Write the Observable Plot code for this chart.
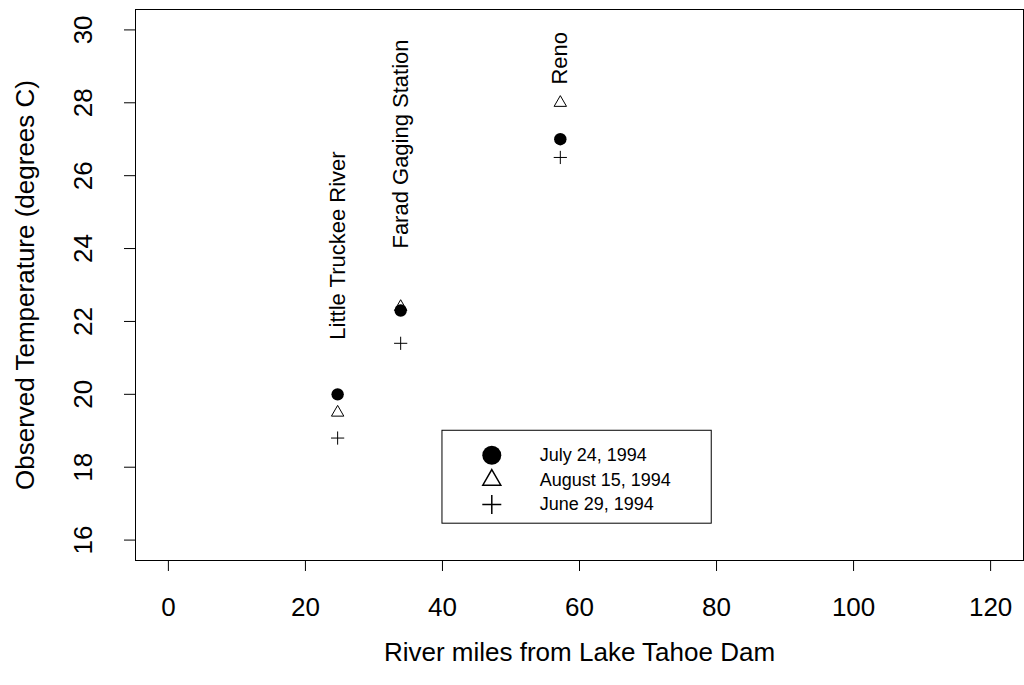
<!DOCTYPE html>
<html>
<head>
<meta charset="utf-8">
<script src="https://cdn.jsdelivr.net/npm/d3@7"></script>
<script src="https://cdn.jsdelivr.net/npm/@observablehq/plot@0.6"></script>
<style>
  html, body { margin: 0; padding: 0; background: #fff; }
  #chart svg { display: block; }
</style>
</head>
<body>
<div id="chart"></div>
<script>
// Sampling sites along the Truckee River
const sites = ["Little Truckee River", "Farad Gaging Station", "Reno"];
const riverMiles = [24.7, 33.9, 57.2];

// Observed water temperature (°C) on each survey date
const july24 = [20.0, 22.3, 27.0];
const aug15 = [19.5, 22.4, 28.0];
const june29 = [18.8, 21.4, 26.5];

// Where each site name starts (temperature units)
const siteLabelY = [21.5, 24.0, 28.5];

const seriesNames = ["July 24, 1994", "August 15, 1994", "June 29, 1994"];

const xTicks = [0, 20, 40, 60, 80, 100, 120];
const yTicks = [16, 18, 20, 22, 24, 26, 28, 30];

const xTitle = "River miles from Lake Tahoe Dam";
const yTitle = "Observed Temperature (degrees C)";

// Legend placement in data units (upper-left corner at x = 40, y = 19)
const legendBox = [{x1: 40, x2: 79.3, y1: 19, y2: 16.45}];
const legendSymbolX = 47.2;
const legendTextX = 54.2;
const legendRowY = [18.33, 17.65, 16.98];

// Open triangle and thin plus drawn as outlines
const openTriangle = {
  draw(ctx, size) {
    const r = Math.sqrt(size / Math.PI);
    const h = Math.sqrt(3) * r;
    ctx.moveTo(0, -2 * h / 3);
    ctx.lineTo(r, h / 3);
    ctx.lineTo(-r, h / 3);
    ctx.closePath();
  }
};
const thinPlus = {
  draw(ctx, size) {
    const r = Math.sqrt(size / Math.PI);
    ctx.moveTo(-r, 0); ctx.lineTo(r, 0);
    ctx.moveTo(0, -r); ctx.lineTo(0, r);
  }
};

const rows = (vals) => sites.map((s, i) => ({site: s, miles: riverMiles[i], temp: vals[i]}));
const labels = sites.map((s, i) => ({site: s, miles: riverMiles[i], y: siteLabelY[i]}));
const legendRows = seriesNames.map((name, i) => ({name, y: legendRowY[i]}));

const font = "Liberation Sans, Arial, Helvetica, sans-serif";
const axisFont = 26;

const chart = Plot.plot({
  width: 1024,
  height: 685,
  marginTop: 9,
  marginRight: 1,
  marginBottom: 125,
  marginLeft: 135,
  style: {fontFamily: font, background: "white", color: "black"},
  x: {domain: [-4.8, 124.8]},
  y: {domain: [15.44, 30.56]},
  marks: [
    Plot.frame({stroke: "black", strokeWidth: 1}),
    Plot.axisX(xTicks, {tickSize: 11, tickPadding: 26, fontSize: axisFont, label: null, stroke: "black"}),
    Plot.axisY(yTicks, {tickSize: 11, tickFormat: () => "", label: null, stroke: "black"}),
    Plot.text(yTicks, {y: d => d, text: d => String(d), frameAnchor: "left", dx: -44,
      rotate: -90, textAnchor: "middle", lineAnchor: "bottom", fontSize: axisFont, fill: "black"}),
    Plot.text([xTitle], {text: d => d, frameAnchor: "bottom", dy: 100, fontSize: axisFont, fill: "black"}),
    Plot.text([yTitle], {text: d => d, frameAnchor: "left", dx: -110, rotate: -90,
      textAnchor: "middle", fontSize: axisFont, fill: "black"}),

    // Site labels
    Plot.text(labels, {x: "miles", y: "y", text: "site", rotate: -90, textAnchor: "start",
      fontSize: 22, fill: "black"}),

    // Observations
    Plot.dot(rows(july24), {x: "miles", y: "temp", r: 6.2, fill: "black", stroke: "none"}),
    Plot.dot(rows(aug15), {x: "miles", y: "temp", r: 6.2, symbol: openTriangle, fill: "none", stroke: "black", strokeWidth: 1}),
    Plot.dot(rows(june29), {x: "miles", y: "temp", r: 6.6, symbol: thinPlus, fill: "none", stroke: "black", strokeWidth: 1}),

    // Legend
    Plot.rect(legendBox, {x1: "x1", x2: "x2", y1: "y1", y2: "y2", fill: "white", stroke: "black", strokeWidth: 1}),
    Plot.dot([legendRows[0]], {x: () => legendSymbolX, y: "y", r: 9.5, fill: "black", stroke: "none"}),
    Plot.dot([legendRows[1]], {x: () => legendSymbolX, y: "y", r: 9, symbol: openTriangle, fill: "none", stroke: "black"}),
    Plot.dot([legendRows[2]], {x: () => legendSymbolX, y: "y", r: 9.5, symbol: thinPlus, fill: "none", stroke: "black"}),
    Plot.text(legendRows, {x: () => legendTextX, y: "y", text: "name", textAnchor: "start", fontSize: 18, fill: "black"})
  ]
});

document.getElementById("chart").appendChild(chart);
</script>
</body>
</html>
